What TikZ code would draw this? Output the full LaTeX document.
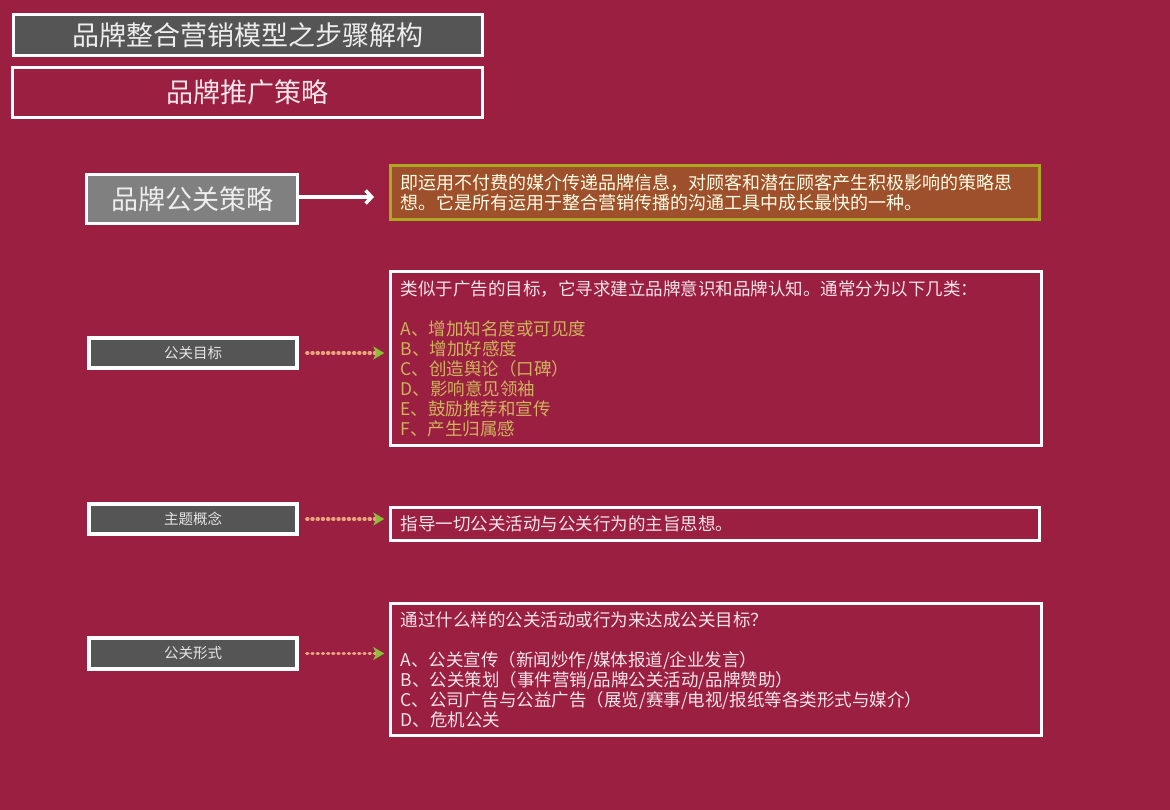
\documentclass[tikz,border=0pt]{standalone}
\usepackage{fontspec}
\setmainfont{Noto Sans CJK SC}
\usetikzlibrary{arrows.meta}
\definecolor{bg}{RGB}{155,31,64}
\definecolor{darkbox}{RGB}{85,85,85}
\definecolor{graybox}{RGB}{128,128,128}
\definecolor{siennabox}{RGB}{158,80,44}
\definecolor{olivebd}{RGB}{172,168,32}
\definecolor{pinkw}{RGB}{245,228,234}
\definecolor{goldtxt}{RGB}{206,180,92}
\definecolor{dotc}{RGB}{232,164,124}
\definecolor{tipg}{RGB}{140,190,60}
\begin{document}
\begin{tikzpicture}[x=1pt,y=-1pt,
  bigbox/.style={draw=white, line width=3pt, text=white!93!black, inner sep=0pt,
    font=\fontsize{27}{30}\selectfont},
  labelbox/.style={draw=white, line width=3.5pt, fill=darkbox, text=white!90!black, inner sep=0pt,
    minimum width=208pt, minimum height=30pt, font=\fontsize{14.5}{16}\selectfont},
  textbox/.style={draw=white, line width=2.5pt, text=pinkw, inner xsep=10pt, inner ysep=0pt,
    align=left, font=\fontsize{17.5}{20}\selectfont},
  whitearrow/.style={draw=white, line width=3.5pt, -{Straight Barb[length=6pt,width=13pt]}, shorten >=15pt},
  dotarrow/.style={draw=dotc, line width=3.2pt, dash pattern=on 1.2pt off 4pt, line cap=round,
    -{Stealth[length=11pt,width=13pt,inset=3pt,color=tipg]}, shorten <=8pt, shorten >=5pt}
]
\fill[bg] (0,0) rectangle (1170,810);
\useasboundingbox (0,0) rectangle (1170,810);

\node[bigbox, fill=darkbox, minimum width=469pt, minimum height=41pt] (title) at (248,35) {品牌整合营销模型之步骤解构};
\node[bigbox, minimum width=470pt, minimum height=50pt, text=pinkw] (sub) at (247.5,92.5) {品牌推广策略};
\node[bigbox, fill=graybox, minimum width=211pt, minimum height=49pt] (pr) at (192,199) {品牌公关策略};

\node[textbox, draw=olivebd, line width=3pt, fill=siennabox, text=white!90!yellow, text width=629pt, minimum height=54pt,
  font=\fontsize{18}{20}\selectfont] (def) at (715,192.5)
  {即运用不付费的媒介传递品牌信息，对顾客和潜在顾客产生积极影响的策略思\\想。它是所有运用于整合营销传播的沟通工具中成长最快的一种。};

\node[labelbox] (goal) at (193,353) {公关目标};
\node[textbox, text width=631pt, minimum height=174pt] (goaltxt) at (716,358.5)
  {类似于广告的目标，它寻求建立品牌意识和品牌认知。通常分为以下几类：\\[20pt]
   \textcolor{goldtxt}{A、增加知名度或可见度}\\
   \textcolor{goldtxt}{B、增加好感度}\\
   \textcolor{goldtxt}{C、创造舆论（口碑）}\\
   \textcolor{goldtxt}{D、影响意见领袖}\\
   \textcolor{goldtxt}{E、鼓励推荐和宣传}\\
   \textcolor{goldtxt}{F、产生归属感}};

\node[labelbox] (theme) at (193,519) {主题概念};
\node[textbox, text width=629pt, minimum height=33pt] (themetxt) at (715,524)
  {指导一切公关活动与公关行为的主旨思想。};

\node[labelbox, minimum height=31pt] (form) at (193,653.5) {公关形式};
\node[textbox, text width=631pt, minimum height=132pt] (formtxt) at (716,669.5)
  {通过什么样的公关活动或行为来达成公关目标？\\[20pt]
   A、公关宣传（新闻炒作/媒体报道/企业发言）\\
   B、公关策划（事件营销/品牌公关活动/品牌赞助）\\
   C、公司广告与公益广告（展览/赛事/电视/报纸等各类形式与媒介）\\
   D、危机公关};

\draw[whitearrow] ([yshift=2pt]pr.east) -- ([yshift=2pt]pr.east -| def.west);
\draw[dotarrow] (goal.east) -- (goal.east -| goaltxt.west);
\draw[dotarrow] (theme.east) -- (theme.east -| themetxt.west);
\draw[dotarrow] (form.east) -- (form.east -| formtxt.west);
\end{tikzpicture}
\end{document}
